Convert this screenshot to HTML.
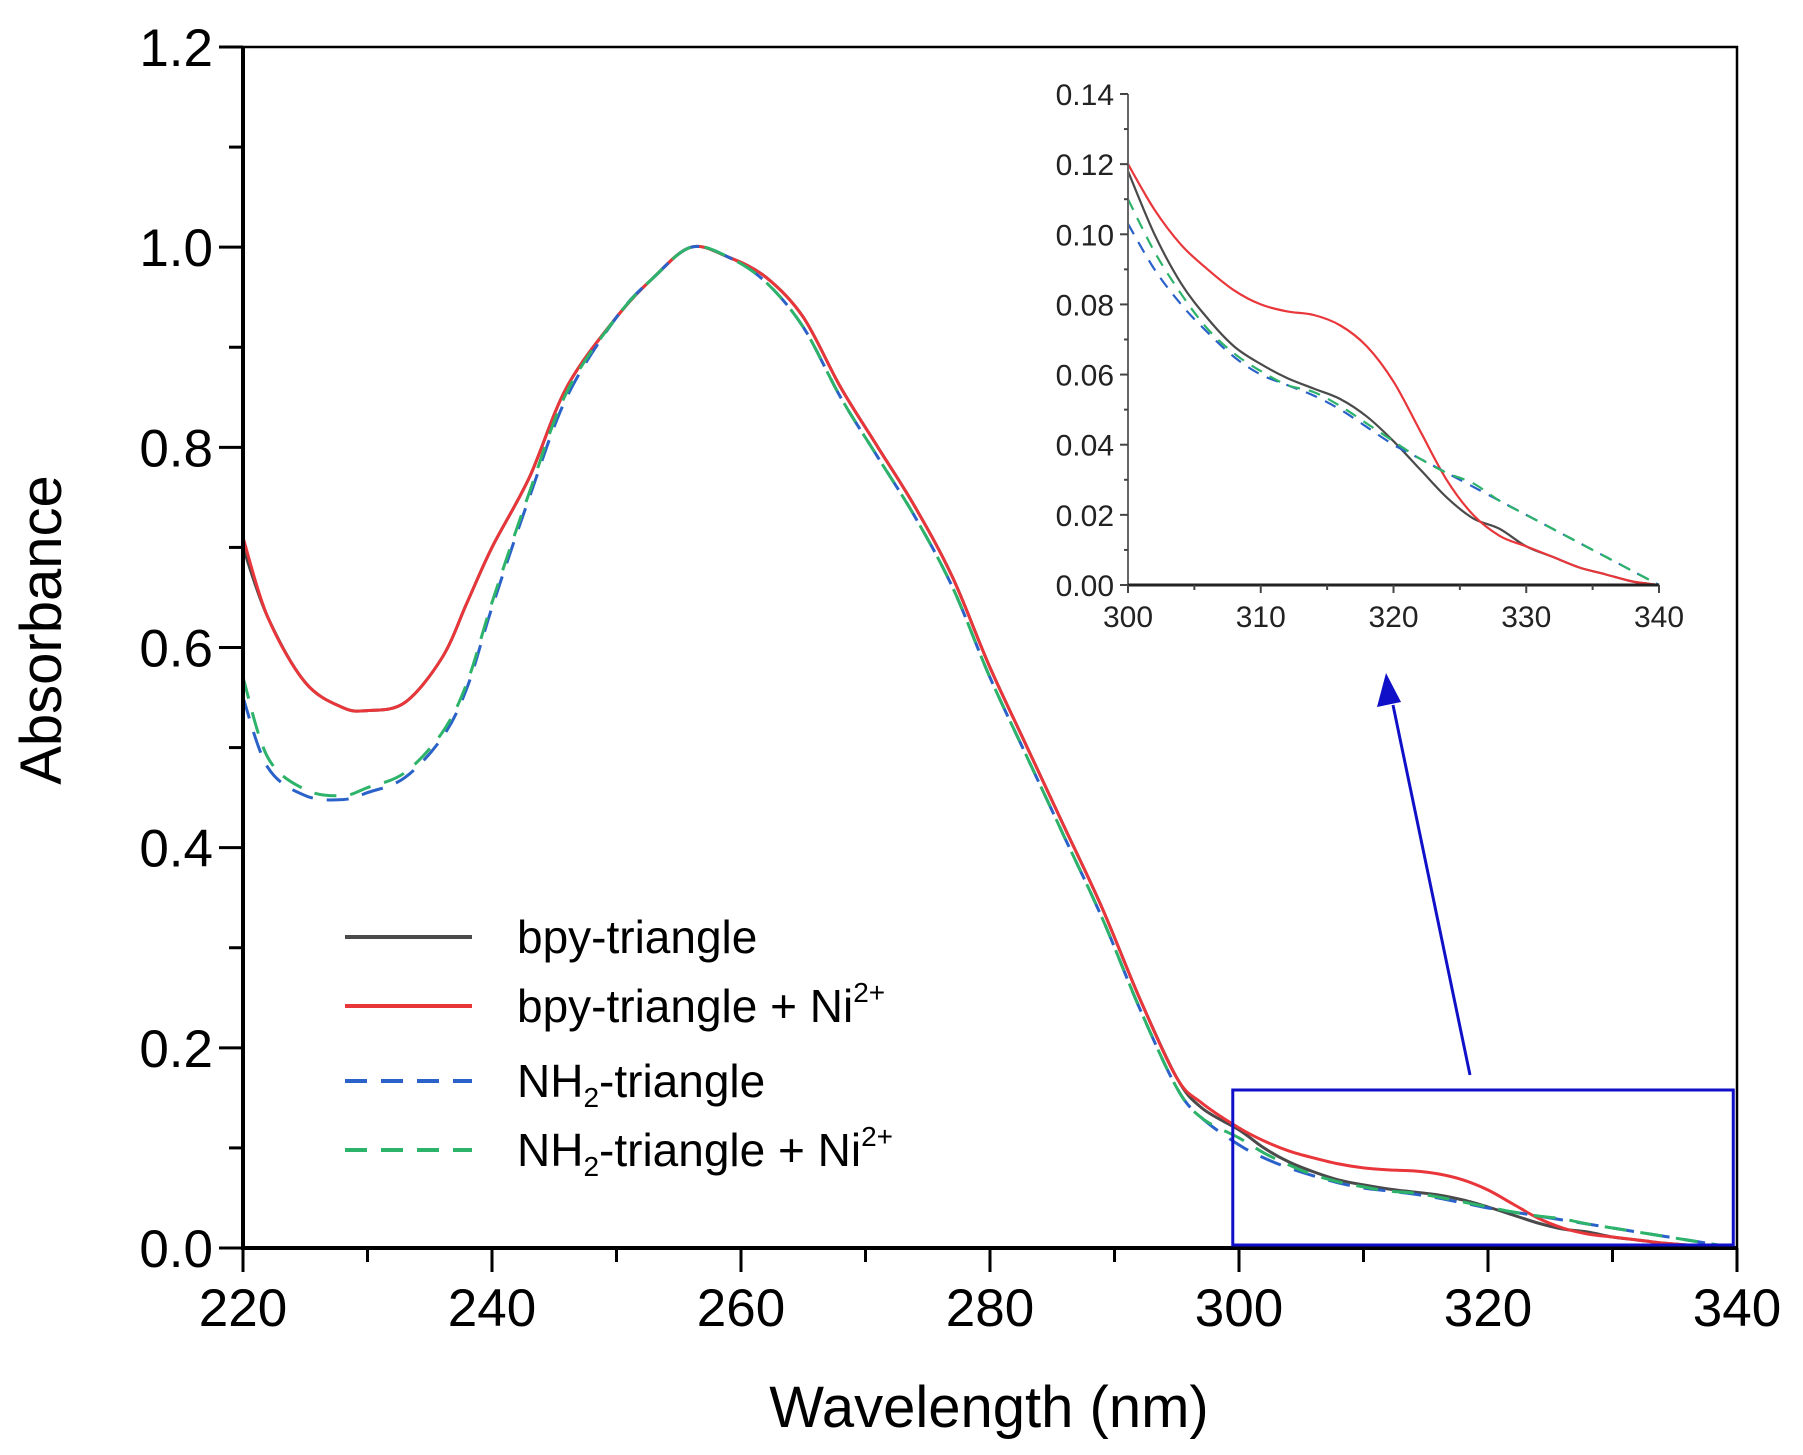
<!DOCTYPE html>
<html><head><meta charset="utf-8"><style>
body{margin:0;background:#fff;}
svg{display:block;font-family:"Liberation Sans",sans-serif;}
</style></head><body>
<svg id="chart" width="1803" height="1455" viewBox="0 0 1803 1455" xmlns="http://www.w3.org/2000/svg">
<g id="main"></g><g id="inset"></g>
</svg>
<script>
const mainWl = [220,222,225,228,230,233,236,238,240,243,246,250,253,256,259,262,265,268,271,274,277,280,283,286,289,292,295,297,300,302,304,306,308,310,312,314,316,318,320,322,324,326,328,330,332,334,336,338,340];
const bpyMain = [0.70,0.63,0.565,0.54,0.537,0.545,0.59,0.645,0.70,0.77,0.86,0.93,0.97,1.0,0.99,0.97,0.93,0.86,0.80,0.74,0.67,0.58,0.50,0.42,0.34,0.25,0.17,0.14,0.118,0.100,0.086,0.076,0.068,0.063,0.059,0.056,0.053,0.048,0.041,0.033,0.025,0.019,0.016,0.011,0.008,0.005,0.003,0.001,0];
const bpyNiMain = [0.71,0.63,0.565,0.54,0.537,0.545,0.59,0.645,0.70,0.77,0.86,0.93,0.97,1.0,0.99,0.97,0.93,0.86,0.80,0.74,0.67,0.58,0.50,0.42,0.34,0.25,0.17,0.145,0.120,0.107,0.097,0.090,0.084,0.080,0.078,0.077,0.074,0.068,0.058,0.044,0.030,0.020,0.014,0.011,0.008,0.005,0.003,0.001,0];
const nh2Main = [0.55,0.48,0.452,0.448,0.455,0.47,0.51,0.56,0.64,0.75,0.85,0.93,0.97,1.0,0.99,0.965,0.92,0.85,0.79,0.73,0.66,0.57,0.49,0.41,0.33,0.24,0.16,0.13,0.103,0.090,0.080,0.072,0.065,0.060,0.057,0.054,0.050,0.045,0.040,0.036,0.032,0.028,0.024,0.020,0.016,0.012,0.008,0.004,0];
const nh2NiMain = [0.57,0.49,0.458,0.452,0.46,0.475,0.515,0.565,0.645,0.755,0.855,0.93,0.97,1.0,0.99,0.965,0.92,0.85,0.79,0.73,0.66,0.57,0.49,0.41,0.33,0.24,0.16,0.13,0.110,0.095,0.083,0.073,0.066,0.061,0.057,0.055,0.051,0.046,0.041,0.036,0.032,0.029,0.024,0.020,0.016,0.012,0.008,0.004,0];
const xTicks = [220,240,260,280,300,320,340];
const yTicks = ["0.0","0.2","0.4","0.6","0.8","1.0","1.2"];
const insetXTicks = [300,310,320,330,340];
const insetYTicks = ["0.00","0.02","0.04","0.06","0.08","0.10","0.12","0.14"];

const NS="http://www.w3.org/2000/svg";
function mk(parent,tag,attrs,text){const e=document.createElementNS(NS,tag);for(const k in attrs)e.setAttribute(k,attrs[k]);if(text!==undefined)e.textContent=text;parent.appendChild(e);return e;}
function smooth(pts){let d='M'+pts[0][0].toFixed(1)+','+pts[0][1].toFixed(1);
  for(let i=0;i<pts.length-1;i++){const p0=pts[Math.max(i-1,0)],p1=pts[i],p2=pts[i+1],p3=pts[Math.min(i+2,pts.length-1)];
    const c1=[p1[0]+(p2[0]-p0[0])/6,p1[1]+(p2[1]-p0[1])/6],c2=[p2[0]-(p3[0]-p1[0])/6,p2[1]-(p3[1]-p1[1])/6];
    d+=' C'+c1[0].toFixed(1)+','+c1[1].toFixed(1)+' '+c2[0].toFixed(1)+','+c2[1].toFixed(1)+' '+p2[0].toFixed(1)+','+p2[1].toFixed(1);}
  return d;}
const colors=["#4a4a4a","#e8363a","#2a62c9","#2db36a"];
const dashes=["","","22,14","22,14"];
const names=["bpy-triangle","bpy-triangle-ni","nh2-triangle","nh2-triangle-ni"];

const X0=243,X1=1737,Y0=1248,Y1=47;
const xs=v=>X0+(v-220)/(340-220)*(X1-X0);
const ys=v=>Y0-v/1.2*(Y0-Y1);
const g=document.getElementById('main');
const series=[bpyMain,bpyNiMain,nh2Main,nh2NiMain];
series.forEach((s,i)=>{
  const p=mk(g,'path',{d:smooth(mainWl.map((w,j)=>[xs(w),ys(s[j])])),fill:'none',stroke:colors[i],'stroke-width':3,'stroke-dasharray':dashes[i],'stroke-linejoin':'round'});
  
  
});
let f=mk(g,'rect',{x:X0,y:Y1,width:X1-X0,height:Y0-Y1,fill:'none',stroke:'#000','stroke-width':2.5});

mk(g,'line',{x1:X0,y1:Y1,x2:X0,y2:Y0+2,stroke:'#000','stroke-width':4});
mk(g,'line',{x1:X0-2,y1:Y0,x2:X1,y2:Y0,stroke:'#000','stroke-width':4});
for(let v=220;v<=340;v+=10){const maj=(v%20===0);mk(g,'line',{x1:xs(v),y1:Y0,x2:xs(v),y2:Y0+(maj?24:14),stroke:'#000','stroke-width':3});}
xTicks.forEach(v=>{const t=mk(g,'text',{x:xs(v),y:Y0+78,'font-size':53,'text-anchor':'middle'},String(v));});
for(let k=0;k<=12;k++){const v=k/10;const maj=(k%2===0);mk(g,'line',{x1:X0,y1:ys(v),x2:X0-(maj?24:14),y2:ys(v),stroke:'#000','stroke-width':3});}
yTicks.forEach(v=>{const t=mk(g,'text',{x:213,y:ys(parseFloat(v))+19,'font-size':53,'text-anchor':'end'},v);});
let t=mk(g,'text',{x:989,y:1427,'font-size':58,'text-anchor':'middle'},'Wavelength (nm)');
t=mk(g,'text',{x:0,y:0,'font-size':58,'text-anchor':'middle',transform:'translate(61,630) rotate(-90)'},'Absorbance');

let r=mk(g,'rect',{x:xs(299.5),y:1090,width:xs(339.7)-xs(299.5),height:155,fill:'none',stroke:'#1010c8','stroke-width':3});

let a=mk(g,'line',{x1:1470,y1:1075,x2:1393,y2:705,stroke:'#1010c8','stroke-width':3});

mk(g,'polygon',{points:'1386,673 1377,707 1401,702',fill:'#1010c8'});

const legY=[937,1006,1081,1150];
const lg=mk(g,'g',{});
legY.forEach((y,i)=>{
  const e=mk(lg,'g',{});
  mk(e,'line',{x1:345,y1:y,x2:472,y2:y,stroke:colors[i],'stroke-width':4,'stroke-dasharray':dashes[i]});
  const tx=mk(e,'text',{x:517,y:y+16,'font-size':46});
  if(i===0){tx.textContent='bpy-triangle';}
  else if(i===1){tx.textContent='bpy-triangle + Ni';mk(tx,'tspan',{'font-size':28,dy:-20},'2+');}
  else {tx.textContent='NH';mk(tx,'tspan',{'font-size':28,dy:10},'2');mk(tx,'tspan',{dy:-10},i===2?'-triangle':'-triangle + Ni');if(i===3)mk(tx,'tspan',{'font-size':28,dy:-20},'2+');}
});

const ig=document.getElementById('inset');

const IX0=1128,IX1=1659,IY0=585,IY1=94;
const ixs=v=>IX0+(v-300)/40*(IX1-IX0);
const iys=v=>IY0-v/0.14*(IY0-IY1);
const start=mainWl.indexOf(300);
series.forEach((s,i)=>{
  const p=mk(ig,'path',{d:smooth(mainWl.slice(start).map((w,j)=>[ixs(w),iys(s[start+j])])),fill:'none',stroke:colors[i],'stroke-width':2.2,'stroke-dasharray':i>1?'12,9':'','stroke-linejoin':'round'});
  
  
});
mk(ig,'line',{x1:IX0,y1:IY1,x2:IX0,y2:IY0,stroke:'#666','stroke-width':2});
mk(ig,'line',{x1:IX0,y1:IY0,x2:IX1,y2:IY0,stroke:'#222','stroke-width':3});
for(let v=300;v<=340;v+=5){mk(ig,'line',{x1:ixs(v),y1:IY0,x2:ixs(v),y2:IY0+(v%10===0?8:5),stroke:'#444','stroke-width':2});}
for(let k=0;k<=14;k++){mk(ig,'line',{x1:IX0,y1:iys(k/100),x2:IX0-(k%2===0?8:4),y2:iys(k/100),stroke:'#444','stroke-width':2});}
insetXTicks.forEach(v=>{const t=mk(ig,'text',{x:ixs(v),y:IY0+42,'font-size':30,'text-anchor':'middle',fill:'#222'},String(v));});
insetYTicks.forEach(v=>{const t=mk(ig,'text',{x:1114,y:iys(parseFloat(v))+11,'font-size':30,'text-anchor':'end',fill:'#222'},v);});
</script>
</body></html>
